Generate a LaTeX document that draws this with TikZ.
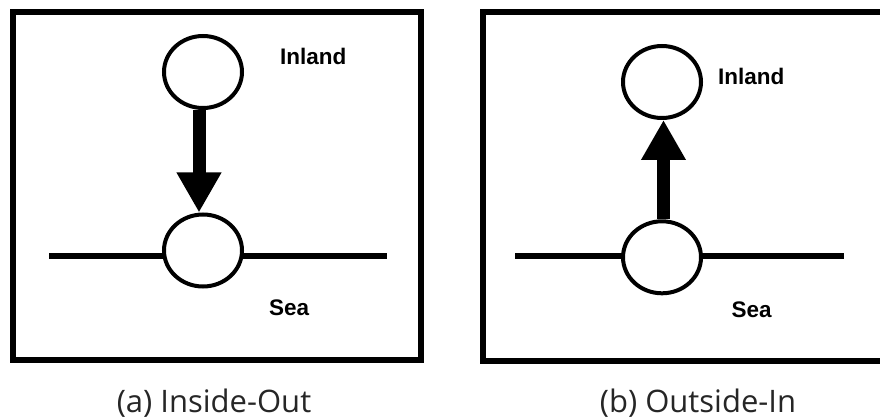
\documentclass[tikz,border=0pt]{standalone}
\usepackage{fontspec}
\usetikzlibrary{shapes.geometric,arrows.meta}
\newfontfamily\tagfont{Liberation Sans}
\newfontfamily\capfont{Open Sans}
\tikzset{
  frame/.style={draw=black, line width=6pt},
  site/.style={ellipse, draw=black, fill=white, line width=4pt, inner sep=0pt,
               minimum width=78pt, minimum height=72pt},
  coast/.style={draw=black, line width=5.5pt},
  flow/.style={draw=black, line width=13pt,
               -{Triangle[width=42pt,length=40pt]}},
  tag/.style={anchor=base west, inner sep=0pt, text=black,
              font=\tagfont\bfseries\fontsize{22.5}{27}\selectfont},
  caption/.style={anchor=base, inner sep=0pt, text=black!85,
                  font=\capfont\fontsize{31}{36}\selectfont}
}
\begin{document}
\begin{tikzpicture}[x=1pt,y=-1pt]
  \clip (0,0) rectangle (880,419);
  \fill[white] (0,0) rectangle (880,419);

  % (a) inside-out
  \draw[frame] (12.5,12.5) rectangle (420.5,360);
  \coordinate (aL) at (49,256);
  \coordinate (aR) at (387,256);
  % shore line runs behind the coastal site
  \draw[coast] (aL) -- (aR);
  \node[site] (aBot) at (203,250.5) {};
  \node[site] (aTop) at (203,72) {};
  \draw[flow] ([xshift=-4pt]aTop.south) -- ([xshift=-4pt]aBot.north);
  \node[tag] (aInland) at (280,65) {Inland};
  \node[tag] (aSea) at (269,316) {Sea};
  \node[caption] (aCap) at (214,412) {(a) Inside-Out};

  % (b) outside-in
  \draw[frame] (482.7,12) rectangle (900,361);
  \coordinate (bL) at (515,256);
  \coordinate (bR) at (844,256);
  \draw[coast] (bL) -- (bR);
  \node[site] (bBot) at (662,257.3) {};
  \node[site] (bTop) at (662,82) {};
  \draw[flow] ([xshift=1.5pt]bBot.north) -- ([xshift=1.5pt]bTop.south);
  \node[tag] (bInland) at (718,84.5) {Inland};
  \node[tag] (bSea) at (731.5,317) {Sea};
  \node[caption] (bCap) at (698,412) {(b) Outside-In};
\end{tikzpicture}
\end{document}
